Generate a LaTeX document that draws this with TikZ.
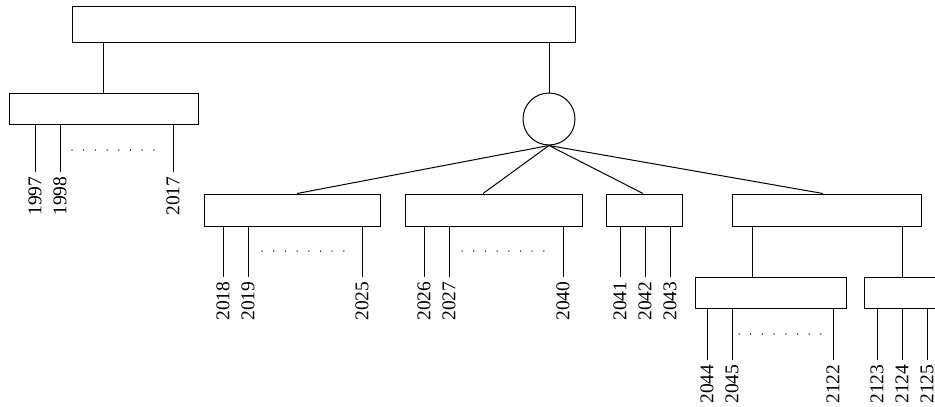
\documentclass[tikz,border=0pt]{standalone}
\usepackage{fontspec}
\setmainfont{Liberation Serif}
\begin{document}
\begin{tikzpicture}[x=1pt,y=-1pt,line width=1pt,
  box/.style={draw,inner sep=0pt,minimum height=32pt},
  lbl/.style={rotate=90,anchor=east,inner sep=0pt,font=\fontsize{19.5}{20}\selectfont},
  dotmark/.style={fill=black,draw=none}]
\clip (0,0) rectangle (935,407);
\fill[white] (0,0) rectangle (935,407);
% boxes
\node[box,minimum width=503pt,minimum height=36pt] (top) at (323.5,24) {};
\node[box,minimum width=189pt,minimum height=31pt] (left) at (103.5,108.5) {};
\node[draw,circle,inner sep=0pt,minimum size=52pt] (circ) at (549,119) {};
\node[box,minimum width=176pt] (b1) at (292,210) {};
\node[box,minimum width=177pt] (b2) at (493.5,210) {};
\node[box,minimum width=76pt] (b3) at (644,210) {};
\node[box,minimum width=189pt] (b4) at (826.5,210) {};
\node[box,minimum width=151pt,minimum height=31pt] (b5) at (770.5,292.5) {};
\node[box,minimum width=100pt,minimum height=31pt] (b6) at (914,292.5) {};
% stems
\draw (left.north) -- (left.north |- top.south);
\draw (circ.north) -- (circ.north |- top.south);
\draw (circ.south) -- (b1.north -| 297,0);
\draw (circ.south) -- (b2.north -| 483,0);
\draw (circ.south) -- (b3.north -| 643,0);
\draw (circ.south) -- (b4.north -| 823,0);
\draw (b4.south -| 752,0) -- (b5.north -| 752,0);
\draw (b4.south -| 902,0) -- (b6.north -| 902,0);
% labels and legs
\foreach \x/\t in {35/1997,60/1998,173/2017}{
  \node[lbl] (l\t) at (\x,176) {\t};
  \draw (left.south -| l\t.east) -- ([yshift=4pt]l\t.east);}
\foreach \x/\t in {223/2018,248/2019,362/2025}{
  \node[lbl] (l\t) at (\x,281) {\t};
  \draw (b1.south -| l\t.east) -- ([yshift=4pt]l\t.east);}
\foreach \x/\t in {424/2026,449/2027,563/2040}{
  \node[lbl] (l\t) at (\x,281) {\t};
  \draw (b2.south -| l\t.east) -- ([yshift=4pt]l\t.east);}
\foreach \x/\t in {620/2041,645/2042,670/2043}{
  \node[lbl] (l\t) at (\x,281) {\t};
  \draw (b3.south -| l\t.east) -- ([yshift=4pt]l\t.east);}
\foreach \x/\t in {707/2044,732/2045,833/2122}{
  \node[lbl] (l\t) at (\x,364) {\t};
  \draw (b5.south -| l\t.east) -- ([yshift=4pt]l\t.east);}
\foreach \x/\t in {877/2123,902/2124,927/2125}{
  \node[lbl] (l\t) at (\x,364) {\t};
  \draw (b6.south -| l\t.east) -- ([yshift=4pt]l\t.east);}
% dotted rows
\foreach \s/\y in {72/150,262/251,462/251,739/334}{
  \foreach \i in {0,...,7}{
    \fill[dotmark] (\s+\i*11.7,\y) circle (0.75pt);}}
\end{tikzpicture}
\end{document}
